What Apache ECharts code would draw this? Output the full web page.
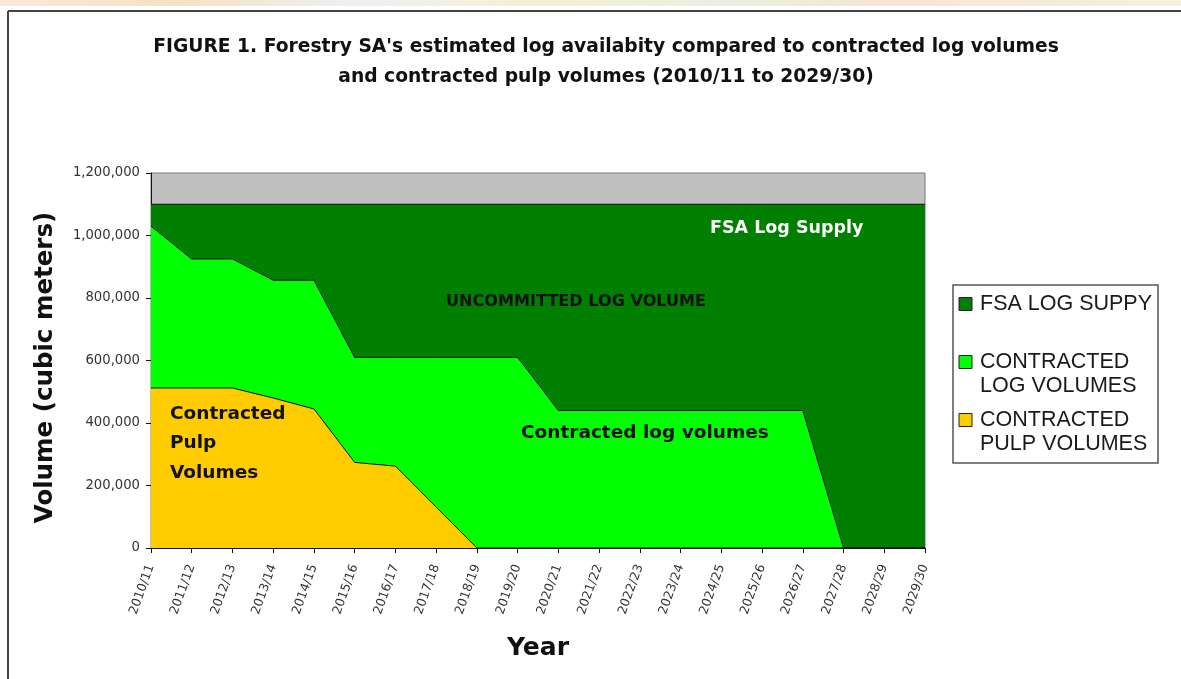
<!DOCTYPE html>
<html>
<head>
<meta charset="utf-8">
<script src="https://cdn.jsdelivr.net/npm/echarts@6/dist/echarts.min.js"></script>
<style>
html,body{margin:0;padding:0;background:#fff;}
#chart{width:1181px;height:679px;}
</style>
</head>
<body>
<div id="chart"></div>
<script>
// ---- Data ----
const categories = ['2010/11','2011/12','2012/13','2013/14','2014/15','2015/16','2016/17','2017/18','2018/19','2019/20',
  '2020/21','2021/22','2022/23','2023/24','2024/25','2025/26','2026/27','2027/28','2028/29','2029/30'];
const fsaLogSupply = [1100000,1100000,1100000,1100000,1100000,1100000,1100000,1100000,1100000,1100000,
  1100000,1100000,1100000,1100000,1100000,1100000,1100000,1100000,1100000,1100000];
const contractedLogVolumes = [1030000,925000,925000,857000,857000,610000,610000,610000,610000,610000,
  440000,440000,440000,440000,440000,440000,440000,0,0,0];
const contractedPulpVolumes = [512000,512000,512000,480000,445000,274000,262000,131000,0,0,
  0,0,0,0,0,0,0,0,0,0];
const seriesNames = ['FSA LOG SUPPY','CONTRACTED\nLOG VOLUMES','CONTRACTED\nPULP VOLUMES'];
const yTicks = [0,200000,400000,600000,800000,1000000,1200000];

const titleText = "FIGURE 1. Forestry SA's estimated log availabity compared to contracted log volumes\nand contracted pulp volumes (2010/11 to 2029/30)";

// ---- Style ----
const colors = ['#007F00','#00FF00','#FFCC00'];
const BOLD = 'DejaVu Sans';

const chart = echarts.init(document.getElementById('chart'), null, {renderer:'canvas'});

function areaSeries(name, data, color, z){
  return {
    type:'line', name:name, data:data, symbol:'none', z:z,
    lineStyle:{color:'#111', width:1},
    itemStyle:{color:color},
    areaStyle:{color:color, opacity:1},
    emphasis:{disabled:true}
  };
}

// legend drawn as graphic from names/colors
const legendItems = [];
const legendRowsY = [304, 362, 420];
seriesNames.forEach((n,i)=>{
  legendItems.push({type:'rect', shape:{x:959,y:legendRowsY[i]-6.5,width:13,height:13},
    style:{fill:colors[i], stroke:'#222', lineWidth:1}});
  legendItems.push({type:'text', style:{text:n, x:980, y:legendRowsY[i]-12, font:'21.5px "Liberation Sans", Arial, sans-serif',
    fill:'#1a1a1a', lineHeight:24, textAlign:'left', textVerticalAlign:'top', align:'left', verticalAlign:'top'}});
});

const option = {
  animation:false,
  backgroundColor:'#ffffff',
  title:{
    text:titleText,
    left:601, top:27, textAlign:'center',
    textStyle:{fontFamily:BOLD, fontWeight:'bold', fontSize:18.7, lineHeight:30, color:'#111'}
  },
  grid:{left:151, right:256, top:173, bottom:131, show:true, backgroundColor:'#C0C0C0', borderColor:'#7a7a7a', borderWidth:1},
  xAxis:{
    type:'category', data:categories, boundaryGap:false,
    name:'Year', nameLocation:'middle', nameGap:88,
    nameTextStyle:{fontFamily:BOLD, fontWeight:'bold', fontSize:25, color:'#111'},
    axisLine:{lineStyle:{color:'#111', width:1}},
    axisTick:{show:true, interval:0, length:5, lineStyle:{color:'#111'}},
    axisLabel:{interval:0, rotate:70, margin:17, fontFamily:'DejaVu Sans', fontSize:12.5, color:'#333'},
    splitLine:{show:false}
  },
  yAxis:{
    type:'value', min:0, max:1200000, interval:200000,
    name:'Volume (cubic meters)', nameLocation:'middle', nameGap:93, nameRotate:90,
    nameTextStyle:{fontFamily:BOLD, fontWeight:'bold', fontSize:24.5, color:'#111', padding:[0,14,0,0]},
    axisLine:{show:true, lineStyle:{color:'#111', width:1}},
    axisTick:{show:true, length:5, lineStyle:{color:'#111'}},
    axisLabel:{margin:11, fontFamily:'DejaVu Sans', fontSize:13.2, color:'#333',
      formatter:v=>v.toLocaleString('en-US')},
    splitLine:{show:false}
  },
  series:[
    areaSeries(seriesNames[0], fsaLogSupply, colors[0], 1),
    areaSeries(seriesNames[1], contractedLogVolumes, colors[1], 2),
    areaSeries(seriesNames[2], contractedPulpVolumes, colors[2], 3)
  ],
  graphic:[
    // faint header strip
    {type:'rect', shape:{x:0,y:0,width:1181,height:6}, z:-1,
      style:{fill:new echarts.graphic.LinearGradient(0,0,1,0,[
        {offset:0,color:'#f7eadc'},{offset:0.15,color:'#f4e2c4'},{offset:0.3,color:'#eef0f4'},
        {offset:0.45,color:'#f6efd6'},{offset:0.6,color:'#e9f0e2'},{offset:0.75,color:'#f4e6d6'},{offset:1,color:'#f6efe0'}])}},
    // page frame
    {type:'line', shape:{x1:8,y1:11,x2:1181,y2:11}, style:{stroke:'#444', lineWidth:2}},
    {type:'line', shape:{x1:8,y1:11,x2:8,y2:679}, style:{stroke:'#444', lineWidth:2}},
    // annotations
    {type:'text', z:10, style:{text:'FSA Log Supply', x:710, y:228, font:'bold 17.5px "DejaVu Sans"', fill:'#ffffff',
      textAlign:'left', textVerticalAlign:'middle', align:'left', verticalAlign:'middle'}},
    {type:'text', z:10, style:{text:'UNCOMMITTED LOG VOLUME', x:446, y:302, font:'bold 16.1px "DejaVu Sans"', fill:'#111',
      textAlign:'left', textVerticalAlign:'middle', align:'left', verticalAlign:'middle'}},
    {type:'text', z:10, style:{text:'Contracted log volumes', x:521, y:433, font:'bold 18.5px "DejaVu Sans"', fill:'#111',
      textAlign:'left', textVerticalAlign:'middle', align:'left', verticalAlign:'middle'}},
    {type:'text', z:10, style:{text:'Contracted\nPulp\nVolumes', x:170, y:399, font:'bold 18.5px "DejaVu Sans"', fill:'#111',
      lineHeight:29.5, textAlign:'left', textVerticalAlign:'top', align:'left', verticalAlign:'top'}},
    // legend box
    {type:'rect', shape:{x:953,y:285,width:205,height:178}, style:{fill:'#fff', stroke:'#555', lineWidth:1.5}},
    ...legendItems
  ]
};
chart.setOption(option);
</script>
</body>
</html>
